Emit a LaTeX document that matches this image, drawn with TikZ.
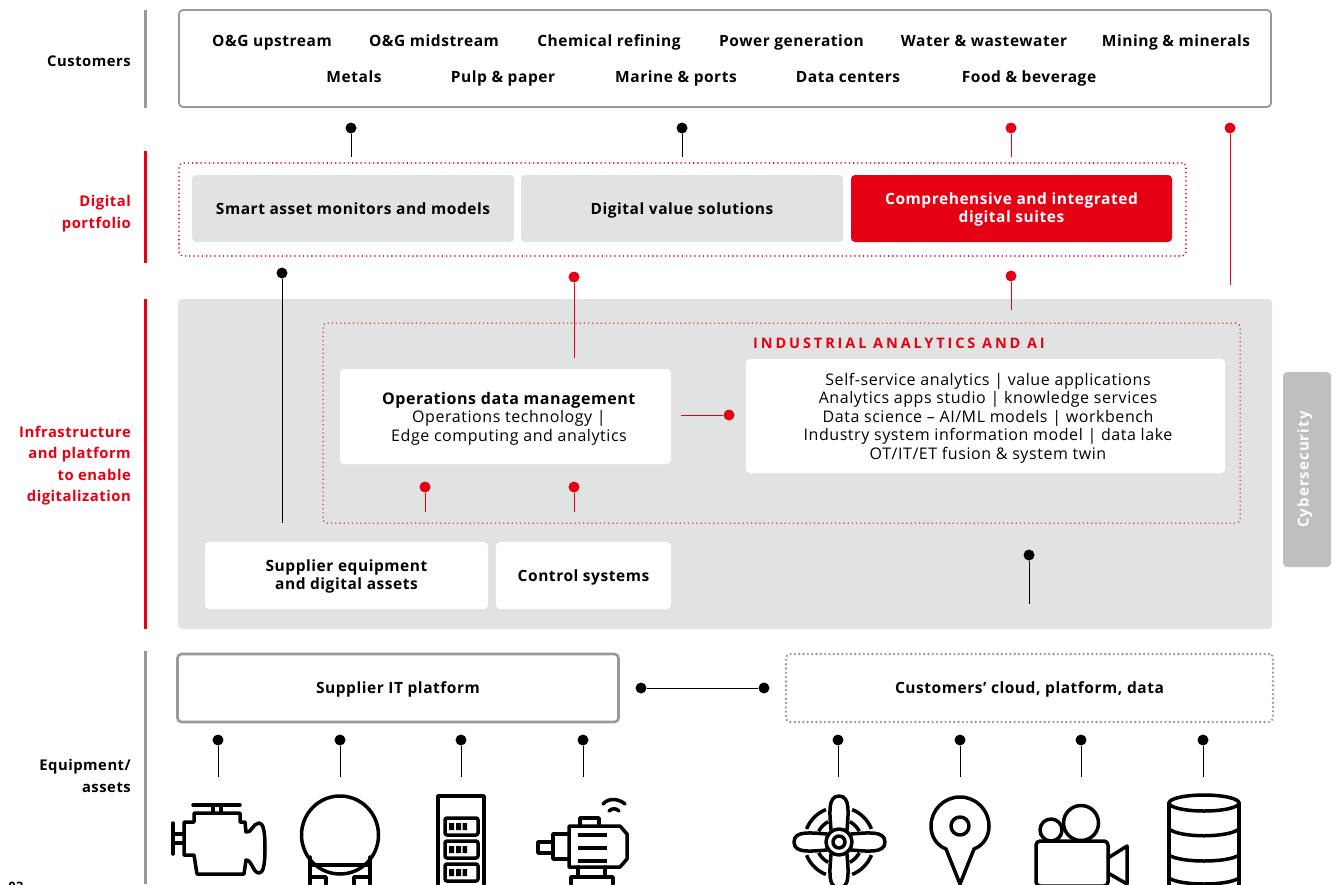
\documentclass[tikz,border=0pt]{standalone}
\usepackage{fontspec}
\setmainfont[LetterSpace=3.5]{Open Sans}
\newfontfamily\spacedfont[LetterSpace=20]{Open Sans}
\newfontfamily\cyberfont[LetterSpace=7]{Open Sans}
\usepackage{tikz}
\usetikzlibrary{positioning}
\definecolor{abbred}{HTML}{E60014}
\definecolor{panel}{HTML}{E1E3E2}
\definecolor{frame}{HTML}{999999}
\definecolor{cyber}{HTML}{BEC0BF}
\tikzset{Lbl/.style={font=\fontsize{15.5}{18.5}\selectfont\bfseries, align=center, inner sep=0, yshift=-2pt,
    execute at begin node=\strut, execute at end node=\strut}}
\tikzset{Txt/.style={font=\fontsize{16}{18.5}\selectfont, align=center, inner sep=0, yshift=-2pt,
    execute at begin node=\strut, execute at end node=\strut}}
\tikzset{Side/.style={font=\fontsize{14.8}{21.5}\selectfont\bfseries, align=right, anchor=east, inner sep=0, yshift=-2pt,
    execute at begin node=\strut, execute at end node=\strut}}
\tikzset{Box/.style={shape=rectangle, rounded corners=4pt, outer sep=0, align=center}}
\tikzset{Bar/.style={line width=3pt, draw=frame}}
\tikzset{BlkDot/.style={shape=circle, fill=black, inner sep=0, minimum size=11pt}}
\tikzset{RedDot/.style={shape=circle, fill=abbred, inner sep=0, minimum size=11pt}}
\tikzset{BlkLine/.style={draw=black, line width=1pt}}
\tikzset{RedLine/.style={draw=abbred, line width=1pt}}
\tikzset{Icon/.style={draw=black, line width=3.5pt, line join=round, line cap=round}}

\begin{document}
\begin{tikzpicture}[x=1pt, y=-1pt]
    \useasboundingbox (0,0) rectangle (1338,884);

    %% Section bars
    \draw [Bar] (145,10) -- (145,108);
    \draw [Bar, draw=abbred] (145,151) -- (145,263);
    \draw [Bar, draw=abbred] (145,299) -- (145,629);
    \draw [Bar] (145,651) -- (145,884);

    \node (custlbl) [Side] at (131,60) {Customers};
    \node (digilbl) [Side, text=abbred] at (131,213) {Digital\\portfolio};
    \node (infralbl) [Side, text=abbred] at (131,465) {Infrastructure\\and platform\\to enable\\digitalization};
    \node (equiplbl) [Side] at (131,777) {Equipment/\\assets};
    \node (pagenum) [Lbl, font=\fontsize{13}{15}\selectfont\bfseries] at (16,886) {03};

    %% Customers
    \node (cust) [Box, draw=frame, line width=1.8pt, minimum width=1092pt, minimum height=97pt] at (725,58.5) {};
    \node (c1) [Lbl] at (272,41) {O\&G upstream};
    \node (c2) [Lbl] at (434,41) {O\&G midstream};
    \node (c3) [Lbl] at (609,41) {Chemical refining};
    \node (c4) [Lbl] at (791.5,41) {Power generation};
    \node (c5) [Lbl] at (984,41) {Water \& wastewater};
    \node (c6) [Lbl] at (1176,41) {Mining \& minerals};
    \node (c7) [Lbl] at (354,77) {Metals};
    \node (c8) [Lbl] at (503,77) {Pulp \& paper};
    \node (c9) [Lbl] at (676,77) {Marine \& ports};
    \node (c10) [Lbl] at (848,77) {Data centers};
    \node (c11) [Lbl] at (1029,77) {Food \& beverage};

    %% Digital portfolio
    \node (digi) [Box, draw=abbred, line width=1.8pt, line cap=round, dash pattern=on 0.01pt off 4.2pt, minimum width=1007pt, minimum height=93pt] at (682.5,209.5) {};
    \node (mon) [Box, fill=panel, minimum width=322pt, minimum height=67pt] at (353,208.5) {};
    \node (montxt) [Lbl] at (353,208.5) {Smart asset monitors and models};
    \node (val) [Box, fill=panel, minimum width=322pt, minimum height=67pt] at (682,208.5) {};
    \node (valtxt) [Lbl] at (682,208.5) {Digital value solutions};
    \node (suite) [Box, fill=abbred, minimum width=321pt, minimum height=67pt] at (1011.5,208.5) {};
    \node (suitetxt) [Lbl, text=white] at (1011.5,208.5) {Comprehensive and integrated\\digital suites};

    %% Infrastructure and platform
    \node (infra) [Box, fill=panel, minimum width=1094pt, minimum height=330pt] at (725,464) {};
    \node (ind) [Box, draw=abbred, line width=1pt, dash pattern=on 1.2pt off 3pt, minimum width=917pt, minimum height=200pt] at (781.5,423) {};
    \node (indlbl) [Lbl, text=abbred, font=\fontsize{14.5}{18}\selectfont\spacedfont\bfseries] at (899,343) {INDUSTRIAL ANALYTICS AND AI};
    \node (ops) [Box, fill=white, minimum width=331pt, minimum height=95pt] at (505.5,416.5) {};
    \node (opstxt) [Txt] at (509,417.5) {\textbf{Operations data management}\\Operations technology |\\Edge computing and analytics};
    \node (ana) [Box, fill=white, minimum width=479pt, minimum height=114pt] at (985.5,416) {};
    \node (anatxt) [Txt] at (988,417) {Self-service analytics | value applications\\Analytics apps studio | knowledge services\\Data science -- AI/ML models | workbench\\Industry system information model | data lake\\OT/IT/ET fusion \& system twin};
    \node (sup) [Box, fill=white, minimum width=283pt, minimum height=67pt] at (346.5,575.5) {};
    \node (suptxt) [Lbl] at (346.5,575.5) {Supplier equipment\\and digital assets};
    \node (ctrl) [Box, fill=white, minimum width=175pt, minimum height=67pt] at (583.5,575.5) {};
    \node (ctrltxt) [Lbl] at (583.5,575.5) {Control systems};

    %% Cybersecurity
    \node (cyb) [Box, fill=cyber, minimum width=48pt, minimum height=195pt] at (1307,469.5) {};
    \node (cybtxt) [Lbl, text=white, rotate=90, yshift=2pt, xshift=2pt, font=\fontsize{15}{18.5}\selectfont\cyberfont\bfseries] at (1307,469.5) {Cybersecurity};

    %% Platforms
    \node (it) [Box, draw=frame, line width=2.6pt, minimum width=441pt, minimum height=68pt] at (398,688) {};
    \node (ittxt) [Lbl] at (398,688) {Supplier IT platform};
    \node (cloud) [Box, draw=frame, line width=2.6pt, line cap=round, dash pattern=on 0.01pt off 4.3pt, minimum width=487pt, minimum height=68pt] at (1029.5,688) {};
    \node (cloudtxt) [Lbl] at (1029.5,688) {Customers' cloud, platform, data};

    %% Links
    \node (a1) [BlkDot] at (351,128) {};
    \coordinate[below=23.5pt of a1] (b1);
    \draw [BlkLine] (a1) -- (b1);

    \node (a2) [BlkDot] at (682,128) {};
    \coordinate[below=23.5pt of a2] (b2);
    \draw [BlkLine] (a2) -- (b2);

    \node (a3) [RedDot] at (1011,128) {};
    \coordinate[below=23.5pt of a3] (b3);
    \draw [RedLine] (a3) -- (b3);

    \node (a4) [RedDot] at (1230,128) {};
    \coordinate[below=151.5pt of a4] (b4);
    \draw [RedLine] (a4) -- (b4);

    \node (a5) [BlkDot] at (282,273) {};
    \coordinate[below=244.5pt of a5] (b5);
    \draw [BlkLine] (a5) -- (b5);

    \node (a6) [RedDot] at (574,277) {};
    \coordinate[below=75.5pt of a6] (b6);
    \draw [RedLine] (a6) -- (b6);

    \node (a7) [RedDot] at (1011,276) {};
    \coordinate[below=28.5pt of a7] (b7);
    \draw [RedLine] (a7) -- (b7);

    \node (a8) [RedDot] at (729,415) {};
    \coordinate[left=42.5pt of a8] (b8);
    \draw [RedLine] (a8) -- (b8);

    \node (a9) [RedDot] at (425,487) {};
    \coordinate[below=19.5pt of a9] (b9);
    \draw [RedLine] (a9) -- (b9);

    \node (a10) [RedDot] at (574,487) {};
    \coordinate[below=19.5pt of a10] (b10);
    \draw [RedLine] (a10) -- (b10);

    \node (a11) [BlkDot] at (1029,555) {};
    \coordinate[below=43.5pt of a11] (b11);
    \draw [BlkLine] (a11) -- (b11);

    \node (a12) [BlkDot] at (641,688) {};
    \node (b12) [BlkDot] at (764,688) {};
    \draw [BlkLine] (a12) -- (b12);

    %% Assets
    \node (e1) [BlkDot] at (218,740) {};
    \coordinate[below=31.5pt of e1] (f1);
    \draw [BlkLine] (e1) -- (f1);

    \node (e2) [BlkDot] at (340,740) {};
    \coordinate[below=31.5pt of e2] (f2);
    \draw [BlkLine] (e2) -- (f2);

    \node (e3) [BlkDot] at (461,740) {};
    \coordinate[below=31.5pt of e3] (f3);
    \draw [BlkLine] (e3) -- (f3);

    \node (e4) [BlkDot] at (583,740) {};
    \coordinate[below=31.5pt of e4] (f4);
    \draw [BlkLine] (e4) -- (f4);

    \node (e5) [BlkDot] at (838,740) {};
    \coordinate[below=31.5pt of e5] (f5);
    \draw [BlkLine] (e5) -- (f5);

    \node (e6) [BlkDot] at (960,740) {};
    \coordinate[below=31.5pt of e6] (f6);
    \draw [BlkLine] (e6) -- (f6);

    \node (e7) [BlkDot] at (1081,740) {};
    \coordinate[below=31.5pt of e7] (f7);
    \draw [BlkLine] (e7) -- (f7);

    \node (e8) [BlkDot] at (1203,740) {};
    \coordinate[below=31.5pt of e8] (f8);
    \draw [BlkLine] (e8) -- (f8);

    %% Icons
    \begin{scope}
      \clip (0,0) rectangle (1338,884);

      % engine
      \draw [Icon] (193,805) -- (240,805) (213,805) -- (213,813) (221,805) -- (221,813);
      \draw [Icon] (194,813) -- (240,813) -- (240,822) -- (245,822) -- (246,832)
        .. controls (251,834) and (253,823) .. (259,823)
        .. controls (263,823) and (265,830) .. (265,848)
        .. controls (265,866) and (263,873) .. (259,873)
        .. controls (253,873) and (252,860) .. (246,860)
        -- (244,874) -- (197,874) -- (194,855) -- (184,855) -- (184,822) -- (194,822) -- cycle;
      \draw [Icon] (173,823) -- (173,854) (173,834) -- (184,834) (173,843) -- (184,843);

      % tank
      \draw [Icon] (340,835) ellipse [x radius=38.5, y radius=39];
      \draw [Icon] (310,857) -- (310,884) (370,857) -- (370,884) (310,865) -- (370,865);
      \draw [Icon] (310,877) -- (326,877) -- (326,884) (354,884) -- (354,877) -- (370,877);

      % server
      \draw [Icon] (438,884) -- (438,796) -- (484,796) -- (484,884);
      \draw [Icon, rounded corners=2pt] (445,818) rectangle (478,835);
      \draw [Icon, rounded corners=2pt] (445,841) rectangle (478,858);
      \draw [Icon, rounded corners=2pt] (445,864) rectangle (478,881);
      \fill (449,823) rectangle (454,830) (456,823) rectangle (461,830) (462.5,823) rectangle (467,830);
      \fill (449,846) rectangle (454,853) (456,846) rectangle (461,853) (462.5,846) rectangle (467,853);
      \fill (449,869) rectangle (454,876) (456,869) rectangle (461,876) (462.5,869) rectangle (467,876);

      % motor
      \draw [Icon] (603,804) .. controls (608,798) and (618,798) .. (625,804);
      \draw [Icon] (609,811) .. controls (612,808) and (616,808) .. (619,811);
      \draw [Icon] (569,826) -- (620,826) -- (627,834) -- (627,859) -- (620,867) -- (569,867) -- cycle;
      \draw [Icon] (580,826) -- (580,818) -- (599,818) -- (599,826);
      \draw [Icon] (569,834) -- (553,834) -- (553,859) -- (569,859);
      \draw [Icon] (553,842) -- (538,842) -- (538,853) -- (553,853);
      \draw [Icon, line cap=butt, line width=4.5pt] (578,835) -- (607,835) (578,848) -- (607,848) (578,861) -- (607,861);
      \draw [Icon] (578,867) -- (578,877) (605,867) -- (605,877);
      \draw [Icon] (571,884) -- (571,877) -- (613,877) -- (613,884);

      % propeller
      \draw [Icon] (839,842) circle [radius=13];
      \draw [Icon] (839,842) circle [radius=6];
      \draw [Icon] (831,830) .. controls (830,815) and (827,796) .. (839,796) .. controls (851,796) and (848,815) .. (847,830);
      \draw [Icon] (831,854) .. controls (830,869) and (827,888) .. (839,888) .. controls (851,888) and (848,869) .. (847,854);
      \draw [Icon] (827,834) .. controls (812,833) and (794,830) .. (794,842) .. controls (794,854) and (812,851) .. (827,850);
      \draw [Icon] (851,834) .. controls (866,833) and (885,830) .. (885,842) .. controls (885,854) and (866,851) .. (851,850);
      \draw [Icon, line cap=butt] ([shift={(-68:35)}]839,842) arc [start angle=-68, end angle=-22, radius=35];
      \draw [Icon, line cap=butt] ([shift={(22:35)}]839,842) arc [start angle=22, end angle=68, radius=35];
      \draw [Icon, line cap=butt] ([shift={(112:35)}]839,842) arc [start angle=112, end angle=158, radius=35];
      \draw [Icon, line cap=butt] ([shift={(202:35)}]839,842) arc [start angle=202, end angle=248, radius=35];
      \draw [Icon, line cap=butt] ([shift={(-62:23)}]839,842) arc [start angle=-62, end angle=-28, radius=23];
      \draw [Icon, line cap=butt] ([shift={(28:23)}]839,842) arc [start angle=28, end angle=62, radius=23];
      \draw [Icon, line cap=butt] ([shift={(118:23)}]839,842) arc [start angle=118, end angle=152, radius=23];
      \draw [Icon, line cap=butt] ([shift={(208:23)}]839,842) arc [start angle=208, end angle=242, radius=23];

      % pin
      \draw [Icon] (960,826) circle [radius=9];
      \draw [Icon] (960,884) -- (946,849) .. controls (936,845) and (931,836) .. (931,826)
        .. controls (931,810) and (944,797) .. (960,797)
        .. controls (976,797) and (989,810) .. (989,826)
        .. controls (989,836) and (984,845) .. (974,849) -- cycle;

      % camera
      \draw [Icon] (1081,823) circle [radius=17.5];
      \draw [Icon] (1051,830) circle [radius=11];
      \draw [Icon, rounded corners=4pt] (1036,841) -- (1108,841) -- (1108,886) -- (1036,886) -- cycle;
      \draw [Icon] (1108,858) -- (1127,846) -- (1127,884) -- (1108,873);

      % database
      \draw [Icon] (1204,803) ellipse [x radius=35, y radius=8];
      \draw [Icon] (1169,803) -- (1169,890) (1239,803) -- (1239,890);
      \draw [Icon] (1169,829) .. controls (1180,838) and (1228,838) .. (1239,829);
      \draw [Icon] (1169,855) .. controls (1180,863) and (1228,863) .. (1239,855);
      \draw [Icon] (1169,878) .. controls (1180,886) and (1228,886) .. (1239,878);
    \end{scope}
\end{tikzpicture}
\end{document}
